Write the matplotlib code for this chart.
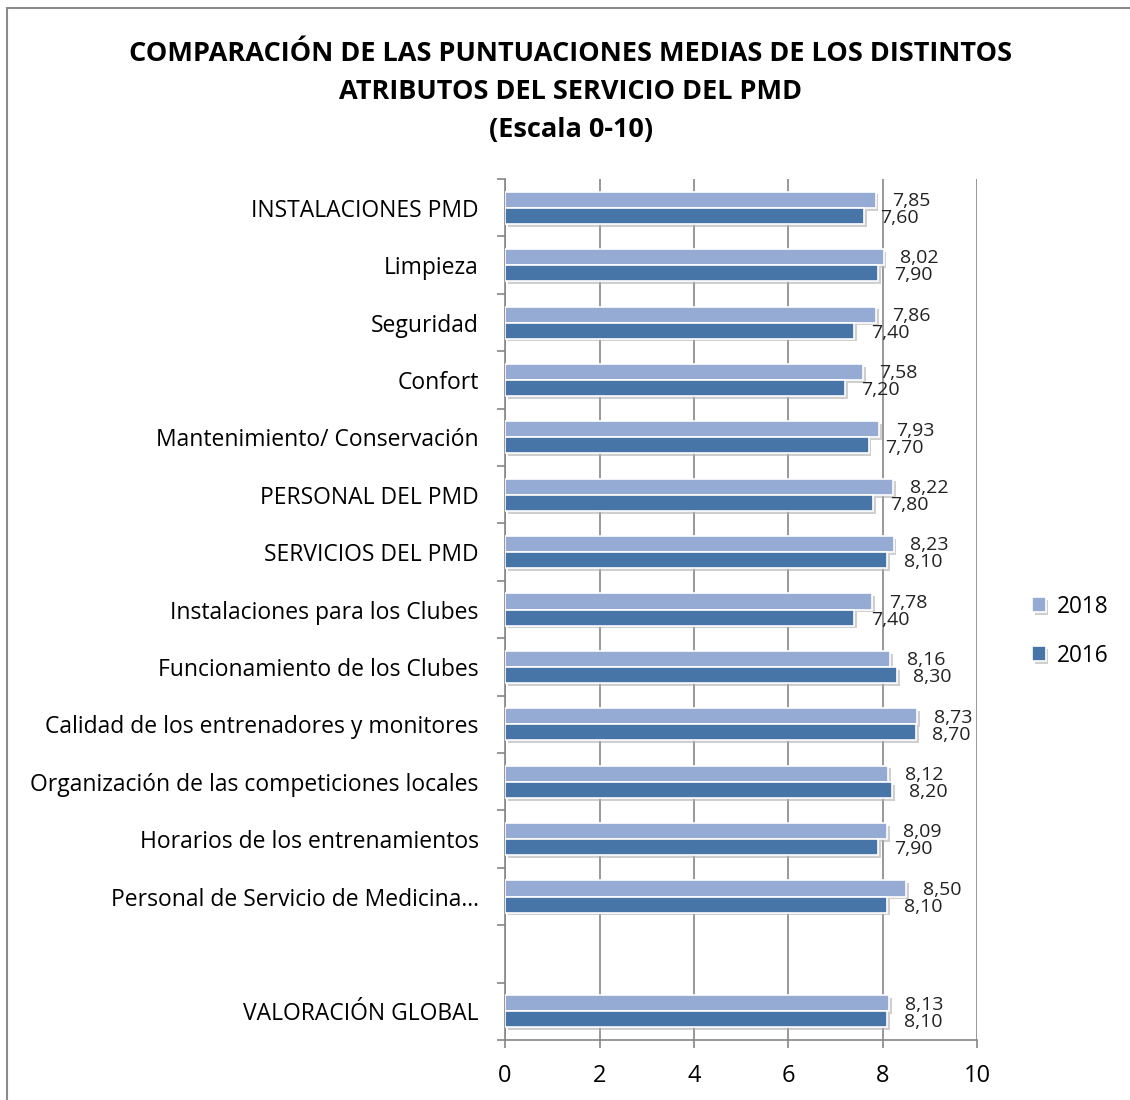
import matplotlib
matplotlib.use("Agg")
from matplotlib import pyplot as plt
from matplotlib import patheffects as pe
from matplotlib.patches import Rectangle
import numpy as np

categories = [
    "INSTALACIONES PMD",
    "Limpieza",
    "Seguridad",
    "Confort",
    "Mantenimiento/ Conservación",
    "PERSONAL DEL PMD",
    "SERVICIOS DEL PMD",
    "Instalaciones para los Clubes",
    "Funcionamiento de los Clubes",
    "Calidad de los entrenadores y monitores",
    "Organización de las competiciones locales",
    "Horarios de los entrenamientos",
    "Personal de Servicio de Medicina…",
    "",
    "VALORACIÓN GLOBAL",
]
v2018 = [7.85, 8.02, 7.86, 7.58, 7.93, 8.22, 8.23, 7.78, 8.16, 8.73, 8.12, 8.09, 8.50, np.nan, 8.13]
v2016 = [7.60, 7.90, 7.40, 7.20, 7.70, 7.80, 8.10, 7.40, 8.30, 8.70, 8.20, 7.90, 8.10, np.nan, 8.10]
years = ["2018", "2016"]
colors = ["#95abd3", "#4775a7"]

plt.rcParams['font.family'] = ['Open Sans', 'DejaVu Sans']

fig = plt.figure(figsize=(11.3, 11), dpi=100)
fig.patches.append(Rectangle((7/1130, -0.1), 1.2, 1 - 8/1100 + 0.1, transform=fig.transFigure,
                             fill=False, edgecolor="#8c8c8c", linewidth=1.5))

ax = fig.add_axes([0.447, 0.0545, 0.4177, 0.7827])

y = np.arange(len(categories))
h = 0.28
shadow = [pe.SimplePatchShadow(offset=(2, -2), shadow_rgbFace="#b0b0b0", alpha=0.6), pe.Normal()]

for vals, off, col, yr in [(v2018, -0.14, colors[0], years[0]), (v2016, 0.14, colors[1], years[1])]:
    bars = ax.barh(y + off, vals, height=h, color=col, edgecolor="white", linewidth=1.2, label=yr, zorder=3)
    for b in bars:
        b.set_path_effects(shadow)
    for yi, v in zip(y, vals):
        if np.isnan(v):
            continue
        ax.text(v + 0.35, yi + off * 1.05 + 0.03, ("%.2f" % v).replace(".", ","), va="center", ha="left",
                fontsize=14, color="#222222", zorder=4)

ax.set_xlim(0, 10)
ax.set_ylim(len(categories) - 0.5, -0.5)
ax.set_xticks(range(0, 11, 2))
ax.set_xticklabels([str(t) for t in range(0, 11, 2)], fontsize=17)
ax.set_yticks(np.arange(len(categories) + 1) - 0.5)
ax.set_yticklabels([])
ax.set_yticks(y, minor=True)
ax.set_yticklabels(categories, minor=True, fontsize=16.5)
ax.tick_params(axis="y", which="minor", length=0, pad=19)
ax.tick_params(axis="y", which="major", length=6, color="#868686", width=1.2)
ax.tick_params(axis="x", length=6, color="#868686", width=1.2, pad=11.5)
ax.grid(axis="x", color="#868686", linewidth=1.2, zorder=0)
for s in ["top", "right"]:
    ax.spines[s].set_visible(False)
for s in ["left", "bottom"]:
    ax.spines[s].set_color("#868686")
    ax.spines[s].set_linewidth(1.2)

ax.legend(loc="center left", bbox_to_anchor=(1.073, 0.475), frameon=False, fontsize=16.3,
          handlelength=0.6, handleheight=0.6, handletextpad=0.5, labelspacing=1.1)

fig.text(0.505, 0.963, "COMPARACIÓN DE LAS PUNTUACIONES MEDIAS DE LOS DISTINTOS\n"
         "ATRIBUTOS DEL SERVICIO DEL PMD\n(Escala 0-10)", ha="center", va="top",
         fontsize=19.5, fontweight="bold", linespacing=1.6)

fig.savefig("out.png", dpi=100)
